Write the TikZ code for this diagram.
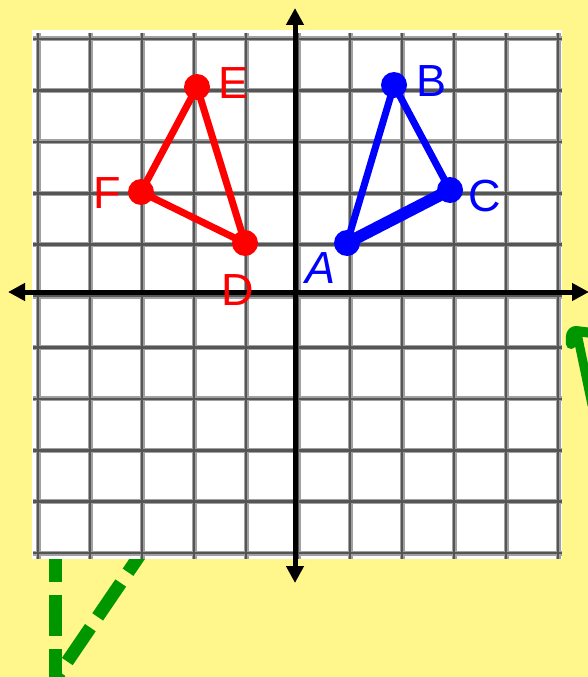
\documentclass[tikz,border=0pt]{standalone}
\usepackage{fontspec}
\setmainfont{Liberation Sans}
\usetikzlibrary{arrows.meta}
\definecolor{bgyellow}{HTML}{FFF78C}
\definecolor{mygreen}{HTML}{009600}
\definecolor{gridgray}{HTML}{555555}
\tikzset{
  gridline/.style={draw=gridgray!55, line width=5pt},
  gridcore/.style={draw=gridgray, line width=2.6pt},
  axisline/.style={draw=black, line width=5pt, {Triangle[length=17pt,width=17pt]}-{Triangle[length=17pt,width=17pt]}},
  greendash/.style={draw=mygreen, line width=13pt, dash pattern=on 41pt off 13pt},
  dotred/.style={circle, fill=red, inner sep=0pt, minimum size=26pt},
  dotblue/.style={circle, fill=blue, inner sep=0pt, minimum size=26pt},
  lblred/.style={text=red, font=\fontsize{45}{45}\selectfont, inner sep=0pt},
  lblblue/.style={text=blue, font=\fontsize{45}{45}\selectfont, inner sep=0pt},
}
\begin{document}
\begin{tikzpicture}[x=1pt,y=-1pt]
\fill[bgyellow] (0,0) rectangle (588,677);
\useasboundingbox (0,0) rectangle (588,677);
% green marks (behind panel)
\coordinate (g1a) at (55,540);
\coordinate (g1b) at (55,690);
\coordinate (g2a) at (150,540);
\coordinate (g2b) at (52,684);
\draw[greendash, dash phase=-1pt] (g1a) -- (g1b);
\draw[greendash, dash phase=2pt] (g2a) -- (g2b);
\coordinate (h1) at (571,344);
\coordinate (h2) at (576,331);
\coordinate (h3) at (592,333);
\coordinate (h4) at (578,338);
\coordinate (h5) at (592,405);
\draw[mygreen, line width=10pt, line cap=round, line join=round] (h1) .. controls (570,334) and (572,331) .. (h2) -- (h3);
\draw[mygreen, line width=9pt, line cap=round] (h4) -- (h5);
% white panel
\fill[white] (32,30) rectangle (562,559);
\foreach \i in {0,...,10} {
  \draw[gridline] ({38+52*\i},33) -- ({38+52*\i},559);
  \draw[gridline] (33,{39+51.4*\i}) -- (562,{39+51.4*\i});
}
\foreach \i in {0,...,10} {
  \draw[gridcore] ({38+52*\i},33) -- ({38+52*\i},559);
  \draw[gridcore] (33,{39+51.4*\i}) -- (562,{39+51.4*\i});
}
% axes
\coordinate (xl) at (8,292);
\coordinate (xr) at (589,292);
\coordinate (yt) at (295,8);
\coordinate (yb) at (295,583);
\draw[axisline] (xl) -- (xr);
\draw[axisline] (yt) -- (yb);
\coordinate (A) at (347,243);
\coordinate (B) at (394,85);
\coordinate (C) at (450,190);
\coordinate (D) at (245,243);
\coordinate (E) at (197,87);
\coordinate (F) at (141,192);
% triangles
\draw[blue, line width=7pt, line join=round] (A) -- (B) -- (C);
\draw[blue, line width=12pt] (A) -- (C);
\draw[red, line width=7pt, line join=round] (D) -- (E) -- (F) -- cycle;
\node[dotblue] (nA) at (A) {};
\node[dotblue] (nB) at (B) {};
\node[dotblue] (nC) at (C) {};
\node[dotred] (nD) at (D) {};
\node[dotred] (nE) at (E) {};
\node[dotred] (nF) at (F) {};
% labels
\node[lblblue] (lA) at (321,268) {\itshape A};
\node[lblblue] (lB) at (432,81) {B};
\node[lblblue] (lC) at (485,196) {C};
\node[lblred] (lD) at (238,290) {D};
\node[lblred] (lE) at (234,83) {E};
\node[lblred] (lF) at (107,193) {F};
\end{tikzpicture}
\end{document}
